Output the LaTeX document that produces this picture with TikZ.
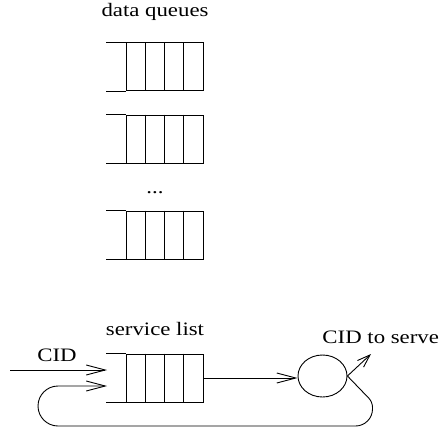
\documentclass[tikz,border=0pt]{standalone}
\usepackage{fontspec}
\setmainfont{Liberation Serif}
\usepackage{graphicx}
\usetikzlibrary{arrows.meta,shapes.geometric}
\tikzset{
  lbl/.style={inner sep=0pt, font=\fontsize{19}{22}\selectfont},
  qbox/.style={draw, minimum width=77pt, minimum height=48pt, inner sep=0pt},
  barb/.style={-{Straight Barb[length=19pt,width=10pt]}},
  smallbarb/.style={-{Straight Barb[length=13pt,width=9pt]}},
}
\newcommand{\wide}[1]{\scalebox{1.2}[1]{#1}}
\begin{document}
\begin{tikzpicture}[x=1pt,y=-1pt,line width=0.9pt]
\useasboundingbox (0,0) rectangle (445,429);
% data queues
\node[lbl, anchor=base] (dqlbl) at (155,16) {\wide{data queues}};
\foreach \q/\y in {q1/66.5, q2/139, q3/235, slist/378} {
  \node[qbox] (\q) at (164.5,\y) {};
  \draw (\q.north west) -- ++(-20,0);
  \draw (\q.south west) -- ++(-20,0);
  \foreach \x in {-19.25,0,19.25}
    \draw ([xshift=\x pt]\q.north) -- ([xshift=\x pt]\q.south);
}
\node[lbl, anchor=base] (dots) at (155,193) {\wide{...}};
% service list
\node[lbl, anchor=base] (sllbl) at (155,335) {\wide{service list}};
\node[lbl, anchor=base] (cid) at (57,361) {\wide{CID}};
\coordinate (tail) at (10,370);
\coordinate (head1) at (107,370);
\coordinate (head2) at (107,386);
\draw[barb] (tail) -- (head1);
% server
\node[ellipse, draw, minimum width=49pt, minimum height=42pt, inner sep=0pt] (srv) at (322.5,376) {};
\node[lbl, anchor=base west] (srvlbl) at (322,343) {\wide{CID to serve}};
\coordinate (out) at (371,354);
\draw[barb] (slist.east) -- (slist.east -| srv.west);
\draw[smallbarb] (srv.east) -- (out);
% loop back
\draw[barb] (srv.east) [rounded corners=5pt] -- (372.5,402)
  [rounded corners=17pt] -- (372.5,426)
  [rounded corners=20pt] -- (38,426) -- (38,386) [sharp corners] -- (head2);
\end{tikzpicture}
\end{document}
